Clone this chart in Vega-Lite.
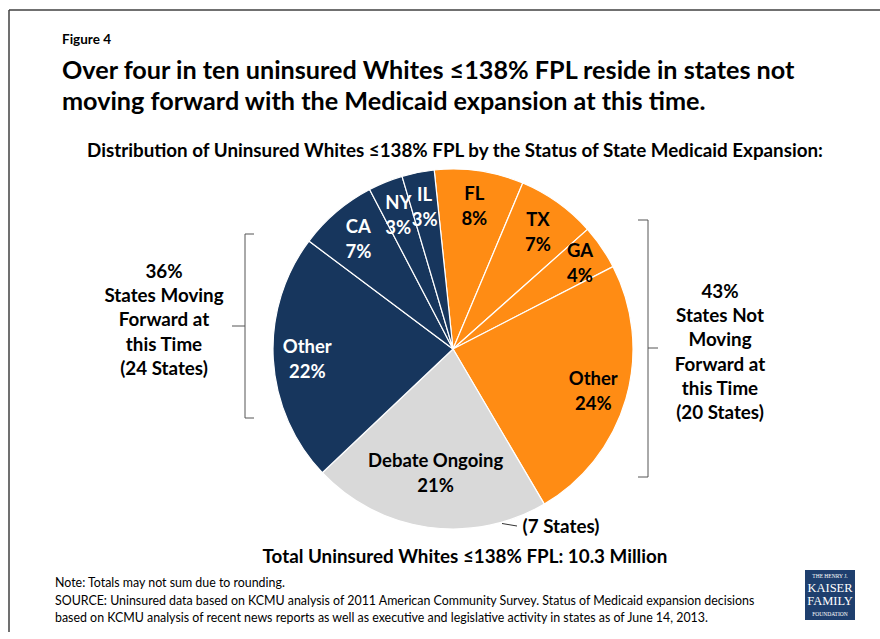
{
  "$schema": "https://vega.github.io/schema/vega-lite/v6.json",
  "width": 880,
  "height": 639,
  "autosize": "none",
  "padding": 0,
  "background": "white",
  "config": {"view": {"stroke": null}, "text": {"font": "Lato"}},
  "datasets": {
    "slices": [
      {"name": "FL", "group": "Not Moving Forward", "share": 8.0, "label": "FL\n8%", "ord": 1},
      {"name": "TX", "group": "Not Moving Forward", "share": 7.1, "label": "TX\n7%", "ord": 2},
      {"name": "GA", "group": "Not Moving Forward", "share": 4.0, "label": "GA\n4%", "ord": 3},
      {"name": "Other (not moving forward)", "group": "Not Moving Forward", "share": 24.1, "label": "Other\n24%", "ord": 4},
      {"name": "Debate Ongoing", "group": "Debate Ongoing", "share": 21.4, "label": "Debate Ongoing\n21%", "ord": 5},
      {"name": "Other (moving forward)", "group": "Moving Forward", "share": 22.3, "label": "Other\n22%", "ord": 6},
      {"name": "CA", "group": "Moving Forward", "share": 7.1, "label": "CA\n7%", "ord": 7},
      {"name": "NY", "group": "Moving Forward", "share": 3.1, "label": "NY\n3%", "ord": 8},
      {"name": "IL", "group": "Moving Forward", "share": 2.9, "label": "IL\n3%", "ord": 9}
    ],
    "one": [{}]
  },
  "layer": [
    {
      "data": {"name": "one"},
      "mark": {"type": "rule", "stroke": "#404040", "strokeWidth": 1.5},
      "encoding": {
        "x": {"datum": 9, "type": "quantitative", "scale": {"domain": [0, 880], "range": [0, 880], "nice": false, "zero": false}, "axis": null},
        "x2": {"datum": 880},
        "y": {"datum": 10, "type": "quantitative", "scale": {"domain": [0, 639], "range": [0, 639], "nice": false, "zero": false}, "axis": null}
      }
    },
    {
      "data": {"name": "one"},
      "mark": {"type": "rule", "stroke": "#404040", "strokeWidth": 1.5},
      "encoding": {
        "x": {"datum": 9, "type": "quantitative", "scale": {"domain": [0, 880], "range": [0, 880], "nice": false, "zero": false}, "axis": null},
        "y": {"datum": 10, "type": "quantitative", "scale": {"domain": [0, 639], "range": [0, 639], "nice": false, "zero": false}, "axis": null},
        "y2": {"datum": 632}
      }
    },
    {
      "data": {"name": "slices"},
      "encoding": {
        "theta": {"field": "share", "type": "quantitative", "stack": true, "scale": {"range": [-0.1047, 6.1785]}},
        "order": {"field": "ord", "type": "quantitative"},
        "x": {"datum": 453, "type": "quantitative", "scale": {"domain": [0, 880], "range": [0, 880], "nice": false, "zero": false}, "axis": null},
        "y": {"datum": 349, "type": "quantitative", "scale": {"domain": [0, 639], "range": [0, 639], "nice": false, "zero": false}, "axis": null}
      },
      "layer": [
        {
          "mark": {"type": "arc", "outerRadius": 180, "stroke": "white", "strokeWidth": 1.2},
          "encoding": {
            "color": {"field": "group", "type": "nominal", "scale": {"domain": ["Not Moving Forward", "Debate Ongoing", "Moving Forward"], "range": ["#FF8C14", "#D9D9D9", "#17365D"]}, "legend": null}
          }
        },
        {
          "mark": {"type": "text", "radius": 146, "dy": -10.5, "fontSize": 18.5, "fontWeight": "bold", "lineBreak": "\n", "lineHeight": 25, "baseline": "middle", "align": "center"},
          "encoding": {
            "text": {"condition": {"test": "datum.name === 'Debate Ongoing' || datum.name === 'GA'", "value": ""}, "field": "label", "type": "nominal"},
            "color": {"condition": {"test": "datum.group === 'Moving Forward'", "value": "white"}, "value": "black"}
          }
        },
        {
          "mark": {"type": "text", "radius": 154, "dy": -10.5, "fontSize": 18.5, "fontWeight": "bold", "lineBreak": "\n", "lineHeight": 25, "baseline": "middle", "align": "center", "color": "black"},
          "encoding": {
            "text": {"condition": {"test": "datum.name !== 'GA'", "value": ""}, "field": "label", "type": "nominal"}
          }
        },
        {
          "mark": {"type": "text", "radius": 124, "dy": -10.5, "fontSize": 18.5, "fontWeight": "bold", "lineBreak": "\n", "lineHeight": 25, "baseline": "middle", "align": "center", "color": "black"},
          "encoding": {
            "text": {"condition": {"test": "datum.name !== 'Debate Ongoing'", "value": ""}, "field": "label", "type": "nominal"}
          }
        }
      ]
    },
    {
      "data": {"name": "one"},
      "mark": {"type": "text", "fontSize": 13.5, "fontWeight": "bold", "align": "left", "baseline": "alphabetic", "color": "black"},
      "encoding": {
        "x": {"datum": 62, "type": "quantitative", "scale": {"domain": [0, 880], "range": [0, 880], "nice": false, "zero": false}, "axis": null},
        "y": {"datum": 44, "type": "quantitative", "scale": {"domain": [0, 639], "range": [0, 639], "nice": false, "zero": false}, "axis": null},
        "text": {"value": "Figure 4"}
      }
    },
    {
      "data": {"name": "one"},
      "mark": {"type": "text", "fontSize": 25.2, "fontWeight": "bold", "align": "left", "baseline": "alphabetic", "lineBreak": "\n", "lineHeight": 31, "color": "black"},
      "encoding": {
        "x": {"datum": 62, "type": "quantitative", "scale": {"domain": [0, 880], "range": [0, 880], "nice": false, "zero": false}, "axis": null},
        "y": {"datum": 79, "type": "quantitative", "scale": {"domain": [0, 639], "range": [0, 639], "nice": false, "zero": false}, "axis": null},
        "text": {"value": "Over four in ten uninsured Whites ≤138% FPL reside in states not\nmoving forward with the Medicaid expansion at this time."}
      }
    },
    {
      "data": {"name": "one"},
      "mark": {"type": "text", "fontSize": 18.8, "fontWeight": "bold", "align": "center", "baseline": "alphabetic", "color": "black"},
      "encoding": {
        "x": {"datum": 455, "type": "quantitative", "scale": {"domain": [0, 880], "range": [0, 880], "nice": false, "zero": false}, "axis": null},
        "y": {"datum": 156.5, "type": "quantitative", "scale": {"domain": [0, 639], "range": [0, 639], "nice": false, "zero": false}, "axis": null},
        "text": {"value": "Distribution of Uninsured Whites ≤138% FPL by the Status of State Medicaid Expansion:"}
      }
    },
    {
      "data": {"name": "one"},
      "mark": {"type": "text", "fontSize": 18.8, "fontWeight": "bold", "align": "center", "baseline": "middle", "lineBreak": "\n", "lineHeight": 24.2, "color": "black"},
      "encoding": {
        "x": {"datum": 164, "type": "quantitative", "scale": {"domain": [0, 880], "range": [0, 880], "nice": false, "zero": false}, "axis": null},
        "y": {"datum": 272, "type": "quantitative", "scale": {"domain": [0, 639], "range": [0, 639], "nice": false, "zero": false}, "axis": null},
        "text": {"value": "36%\nStates Moving\nForward at\nthis Time\n(24 States)"}
      }
    },
    {
      "data": {"name": "one"},
      "mark": {"type": "text", "fontSize": 18.8, "fontWeight": "bold", "align": "center", "baseline": "middle", "lineBreak": "\n", "lineHeight": 24.2, "color": "black"},
      "encoding": {
        "x": {"datum": 720, "type": "quantitative", "scale": {"domain": [0, 880], "range": [0, 880], "nice": false, "zero": false}, "axis": null},
        "y": {"datum": 292, "type": "quantitative", "scale": {"domain": [0, 639], "range": [0, 639], "nice": false, "zero": false}, "axis": null},
        "text": {"value": "43%\nStates Not\nMoving\nForward at\nthis Time\n(20 States)"}
      }
    },
    {
      "data": {"name": "one"},
      "mark": {"type": "text", "fontSize": 18.8, "fontWeight": "bold", "align": "center", "baseline": "middle", "color": "black"},
      "encoding": {
        "x": {"datum": 561, "type": "quantitative", "scale": {"domain": [0, 880], "range": [0, 880], "nice": false, "zero": false}, "axis": null},
        "y": {"datum": 527, "type": "quantitative", "scale": {"domain": [0, 639], "range": [0, 639], "nice": false, "zero": false}, "axis": null},
        "text": {"value": "(7 States)"}
      }
    },
    {
      "data": {"name": "one"},
      "mark": {"type": "rule", "stroke": "#333333", "strokeWidth": 1},
      "encoding": {
        "x": {"datum": 502, "type": "quantitative", "scale": {"domain": [0, 880], "range": [0, 880], "nice": false, "zero": false}, "axis": null},
        "y": {"datum": 523.5, "type": "quantitative", "scale": {"domain": [0, 639], "range": [0, 639], "nice": false, "zero": false}, "axis": null},
        "x2": {"datum": 517},
        "y2": {"datum": 526}
      }
    },
    {
      "data": {"name": "one"},
      "mark": {"type": "text", "fontSize": 18.8, "fontWeight": "bold", "align": "center", "baseline": "alphabetic", "color": "black"},
      "encoding": {
        "x": {"datum": 465, "type": "quantitative", "scale": {"domain": [0, 880], "range": [0, 880], "nice": false, "zero": false}, "axis": null},
        "y": {"datum": 562.5, "type": "quantitative", "scale": {"domain": [0, 639], "range": [0, 639], "nice": false, "zero": false}, "axis": null},
        "text": {"value": "Total Uninsured Whites ≤138% FPL: 10.3 Million"}
      }
    },
    {
      "data": {"name": "one"},
      "mark": {"type": "text", "fontSize": 12.4, "align": "left", "baseline": "alphabetic", "lineBreak": "\n", "lineHeight": 17.5, "color": "black"},
      "encoding": {
        "x": {"datum": 55, "type": "quantitative", "scale": {"domain": [0, 880], "range": [0, 880], "nice": false, "zero": false}, "axis": null},
        "y": {"datum": 587, "type": "quantitative", "scale": {"domain": [0, 639], "range": [0, 639], "nice": false, "zero": false}, "axis": null},
        "text": {"value": "Note: Totals may not sum due to rounding.\nSOURCE: Uninsured data based on KCMU analysis of 2011 American Community Survey. Status of Medicaid expansion decisions\nbased on KCMU analysis of recent news reports as well as executive and legislative activity in states as of June 14, 2013."}
      }
    },
    {
      "data": {"name": "one"},
      "mark": {"type": "rule", "stroke": "#555555", "strokeWidth": 1},
      "encoding": {
        "x": {"datum": 245, "type": "quantitative", "scale": {"domain": [0, 880], "range": [0, 880], "nice": false, "zero": false}, "axis": null},
        "y": {"datum": 234, "type": "quantitative", "scale": {"domain": [0, 639], "range": [0, 639], "nice": false, "zero": false}, "axis": null},
        "y2": {"datum": 418}
      }
    },
    {
      "data": {"name": "one"},
      "mark": {"type": "rule", "stroke": "#555555", "strokeWidth": 1},
      "encoding": {
        "x": {"datum": 245, "type": "quantitative", "scale": {"domain": [0, 880], "range": [0, 880], "nice": false, "zero": false}, "axis": null},
        "x2": {"datum": 254},
        "y": {"datum": 234, "type": "quantitative", "scale": {"domain": [0, 639], "range": [0, 639], "nice": false, "zero": false}, "axis": null}
      }
    },
    {
      "data": {"name": "one"},
      "mark": {"type": "rule", "stroke": "#555555", "strokeWidth": 1},
      "encoding": {
        "x": {"datum": 245, "type": "quantitative", "scale": {"domain": [0, 880], "range": [0, 880], "nice": false, "zero": false}, "axis": null},
        "x2": {"datum": 254},
        "y": {"datum": 418, "type": "quantitative", "scale": {"domain": [0, 639], "range": [0, 639], "nice": false, "zero": false}, "axis": null}
      }
    },
    {
      "data": {"name": "one"},
      "mark": {"type": "rule", "stroke": "#555555", "strokeWidth": 1},
      "encoding": {
        "x": {"datum": 232, "type": "quantitative", "scale": {"domain": [0, 880], "range": [0, 880], "nice": false, "zero": false}, "axis": null},
        "x2": {"datum": 245},
        "y": {"datum": 326, "type": "quantitative", "scale": {"domain": [0, 639], "range": [0, 639], "nice": false, "zero": false}, "axis": null}
      }
    },
    {
      "data": {"name": "one"},
      "mark": {"type": "rule", "stroke": "#555555", "strokeWidth": 1},
      "encoding": {
        "x": {"datum": 648, "type": "quantitative", "scale": {"domain": [0, 880], "range": [0, 880], "nice": false, "zero": false}, "axis": null},
        "y": {"datum": 220, "type": "quantitative", "scale": {"domain": [0, 639], "range": [0, 639], "nice": false, "zero": false}, "axis": null},
        "y2": {"datum": 477}
      }
    },
    {
      "data": {"name": "one"},
      "mark": {"type": "rule", "stroke": "#555555", "strokeWidth": 1},
      "encoding": {
        "x": {"datum": 638, "type": "quantitative", "scale": {"domain": [0, 880], "range": [0, 880], "nice": false, "zero": false}, "axis": null},
        "x2": {"datum": 648},
        "y": {"datum": 220, "type": "quantitative", "scale": {"domain": [0, 639], "range": [0, 639], "nice": false, "zero": false}, "axis": null}
      }
    },
    {
      "data": {"name": "one"},
      "mark": {"type": "rule", "stroke": "#555555", "strokeWidth": 1},
      "encoding": {
        "x": {"datum": 638, "type": "quantitative", "scale": {"domain": [0, 880], "range": [0, 880], "nice": false, "zero": false}, "axis": null},
        "x2": {"datum": 648},
        "y": {"datum": 477, "type": "quantitative", "scale": {"domain": [0, 639], "range": [0, 639], "nice": false, "zero": false}, "axis": null}
      }
    },
    {
      "data": {"name": "one"},
      "mark": {"type": "rule", "stroke": "#555555", "strokeWidth": 1},
      "encoding": {
        "x": {"datum": 648, "type": "quantitative", "scale": {"domain": [0, 880], "range": [0, 880], "nice": false, "zero": false}, "axis": null},
        "x2": {"datum": 658},
        "y": {"datum": 348, "type": "quantitative", "scale": {"domain": [0, 639], "range": [0, 639], "nice": false, "zero": false}, "axis": null}
      }
    },
    {
      "data": {"name": "one"},
      "mark": {"type": "rect", "fill": "#1F3F6E"},
      "encoding": {
        "x": {"datum": 805, "type": "quantitative", "scale": {"domain": [0, 880], "range": [0, 880], "nice": false, "zero": false}, "axis": null},
        "x2": {"datum": 855},
        "y": {"datum": 570, "type": "quantitative", "scale": {"domain": [0, 639], "range": [0, 639], "nice": false, "zero": false}, "axis": null},
        "y2": {"datum": 620}
      }
    },
    {
      "data": {"name": "one"},
      "mark": {"type": "text", "font": "Liberation Serif", "fontSize": 5.5, "align": "center", "baseline": "middle", "color": "white"},
      "encoding": {
        "x": {"datum": 830, "type": "quantitative", "scale": {"domain": [0, 880], "range": [0, 880], "nice": false, "zero": false}, "axis": null},
        "y": {"datum": 576, "type": "quantitative", "scale": {"domain": [0, 639], "range": [0, 639], "nice": false, "zero": false}, "axis": null},
        "text": {"value": "THE HENRY J."}
      }
    },
    {
      "data": {"name": "one"},
      "mark": {"type": "text", "font": "Liberation Serif", "fontSize": 12.5, "align": "center", "baseline": "middle", "lineBreak": "\n", "lineHeight": 12.5, "color": "white"},
      "encoding": {
        "x": {"datum": 830, "type": "quantitative", "scale": {"domain": [0, 880], "range": [0, 880], "nice": false, "zero": false}, "axis": null},
        "y": {"datum": 588, "type": "quantitative", "scale": {"domain": [0, 639], "range": [0, 639], "nice": false, "zero": false}, "axis": null},
        "text": {"value": "KAISER\nFAMILY"}
      }
    },
    {
      "data": {"name": "one"},
      "mark": {"type": "text", "font": "Liberation Serif", "fontSize": 5.5, "align": "center", "baseline": "middle", "color": "white"},
      "encoding": {
        "x": {"datum": 830, "type": "quantitative", "scale": {"domain": [0, 880], "range": [0, 880], "nice": false, "zero": false}, "axis": null},
        "y": {"datum": 614, "type": "quantitative", "scale": {"domain": [0, 639], "range": [0, 639], "nice": false, "zero": false}, "axis": null},
        "text": {"value": "FOUNDATION"}
      }
    }
  ]
}
